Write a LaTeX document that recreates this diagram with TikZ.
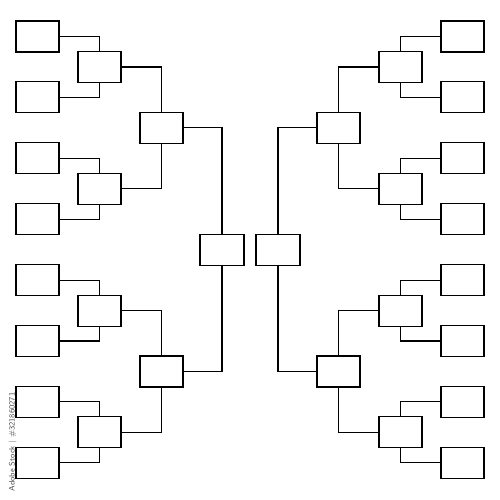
\documentclass[tikz,border=0pt]{standalone}
\begin{document}
\begin{tikzpicture}[x=1pt,y=-1pt,
  bbox/.style={draw=black, line width=1.1pt, minimum width=43pt, minimum height=31pt, inner sep=0pt, fill=white},
  fbox/.style={bbox, minimum width=44pt},
  conn/.style={draw=black, line width=1.1pt}]
\useasboundingbox (0,0) rectangle (500,500);
% round 1
\foreach \i in {0,...,7} {
  \node[bbox] (La\i) at (37.5, {36.5+60.9*\i}) {};
  \node[bbox] (Ra\i) at (462.5, {36.5+60.9*\i}) {};
}
% round 2
\foreach \i in {0,...,3} {
  \node[bbox] (Lb\i) at (99.5, {67+121.8*\i}) {};
  \node[bbox] (Rb\i) at (400.5, {67+121.8*\i}) {};
}
% round 3
\foreach \i in {0,1} {
  \node[bbox] (Lc\i) at (161.5, {127.85+243.6*\i}) {};
  \node[bbox] (Rc\i) at (338.5, {127.85+243.6*\i}) {};
}
% final
\node[fbox] (Lf) at (222, 249.65) {};
\node[fbox] (Rf) at (278, 249.65) {};
% connectors round 1 -> 2
\foreach \i/\a/\b in {0/0/1,1/2/3,2/4/5,3/6/7} {
  \draw[conn] (La\a.east) -| (Lb\i.north);
  \draw[conn] (La\b.east) -| (Lb\i.south);
  \draw[conn] (Ra\a.west) -| (Rb\i.north);
  \draw[conn] (Ra\b.west) -| (Rb\i.south);
}
% round 2 -> 3
\foreach \i/\a/\b in {0/0/1,1/2/3} {
  \draw[conn] (Lb\a.east) -| (Lc\i.north);
  \draw[conn] (Lb\b.east) -| (Lc\i.south);
  \draw[conn] (Rb\a.west) -| (Rc\i.north);
  \draw[conn] (Rb\b.west) -| (Rc\i.south);
}
% round 3 -> final
\draw[conn] (Lc0.east) -| (Lf.north);
\draw[conn] (Lc1.east) -| (Lf.south);
\draw[conn] (Rc0.west) -| (Rf.north);
\draw[conn] (Rc1.west) -| (Rf.south);
% side text
\node[rotate=90, text=black!70, font=\sffamily\fontsize{8}{9}\selectfont, inner sep=0pt] (id) at (12.5, 442) {Adobe Stock | \#321860271};
\end{tikzpicture}
\end{document}
